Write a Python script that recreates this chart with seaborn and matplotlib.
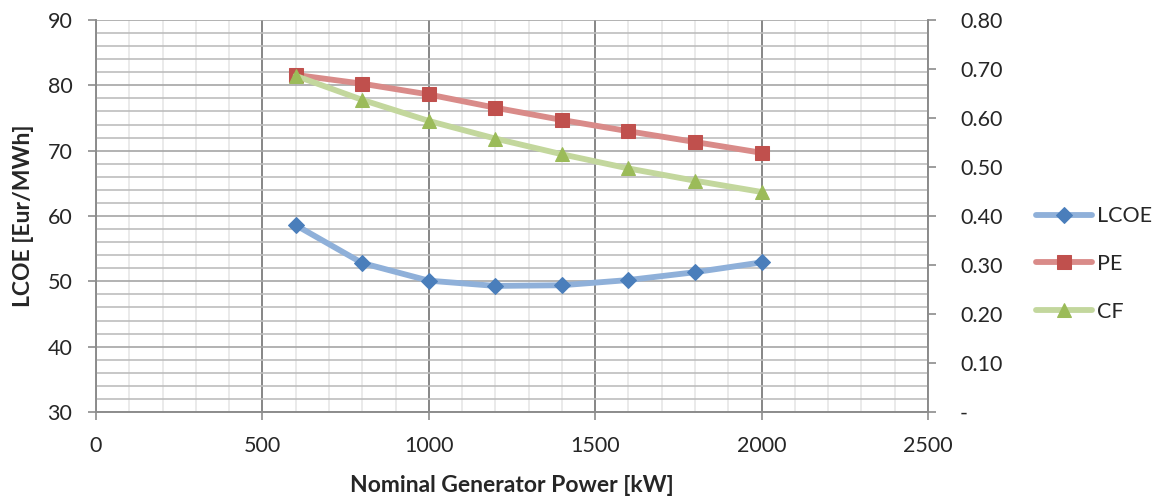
import matplotlib
matplotlib.use("Agg")
import matplotlib.pyplot as plt
import seaborn as sns
import numpy as np
from matplotlib.ticker import MultipleLocator, FuncFormatter

power_kw = [600, 800, 1000, 1200, 1400, 1600, 1800, 2000]
lcoe = [58.6, 52.8, 50.1, 49.3, 49.4, 50.2, 51.4, 52.9]
pe = [0.688, 0.670, 0.648, 0.621, 0.596, 0.573, 0.551, 0.529]
cf = [0.686, 0.637, 0.594, 0.558, 0.526, 0.497, 0.472, 0.449]

x_ticks = [0, 500, 1000, 1500, 2000, 2500]
left_ticks = [30, 40, 50, 60, 70, 80, 90]
right_ticks = [0.0, 0.1, 0.2, 0.3, 0.4, 0.5, 0.6, 0.7, 0.8]

sns.set_style("white")
plt.rcParams['font.family'] = ['Lato', 'DejaVu Sans']

fig = plt.figure(figsize=(11.61, 4.99), dpi=100)
ax = fig.add_axes([96/1161, 1-412/499, (928-96)/1161, (412-20)/499])
ax2 = ax.twinx()

spine_col = '#8c8c8c'
for a in (ax, ax2):
    for s in a.spines.values():
        s.set_color(spine_col)
        s.set_linewidth(1.2)
    a.spines['top'].set_visible(False)

ax.set_xlim(0, 2500)
ax.set_ylim(30, 90)
ax2.set_ylim(0, 0.8)
ax.set_xticks(x_ticks)
ax.set_yticks(left_ticks)
ax2.set_yticks(right_ticks)
ax.xaxis.set_minor_locator(MultipleLocator(100))
ax.yaxis.set_minor_locator(MultipleLocator(2))

ax.grid(which='minor', axis='x', color='#e6e6e6', lw=1.2, zorder=0)
ax.grid(which='minor', axis='y', color='#bdbdbd', lw=1.2, zorder=0)
ax.grid(which='major', axis='y', color='#a6a6a6', lw=1.2, zorder=0)
ax.grid(which='major', axis='x', color='#868686', lw=1.4, zorder=0)
ax.set_axisbelow(True)

fs = 15.5
lfs = 16.5
ax.tick_params(which='major', direction='out', length=6, width=1.2, color=spine_col,
               labelsize=fs, left=True, bottom=True)
ax.tick_params(axis='y', pad=11)
ax.tick_params(axis='x', pad=11)
ax.tick_params(which='minor', length=0)
ax2.tick_params(which='major', direction='out', length=6, width=1.2, color=spine_col,
                labelsize=fs, pad=17, right=True)
ax2.yaxis.set_major_formatter(FuncFormatter(lambda v, p: '-' if abs(v) < 1e-9 else f'{v:.2f}'))

lw = 4.2
sns.lineplot(x=power_kw, y=lcoe, ax=ax, color='#8fb0d9', lw=lw, marker='D', markersize=8,
             markerfacecolor='#4a7ebb', markeredgecolor='#4a7ebb', label='LCOE', zorder=3)
sns.lineplot(x=power_kw, y=pe, ax=ax2, color='#d98b89', lw=lw, marker='s', markersize=9.5,
             markerfacecolor='#c0504d', markeredgecolor='#c0504d', label='PE', zorder=3)
sns.lineplot(x=power_kw, y=cf, ax=ax2, color='#c3d79d', lw=lw, marker='^', markersize=10,
             markerfacecolor='#9bbb59', markeredgecolor='#9bbb59', label='CF', zorder=3)

h1, l1 = ax.get_legend_handles_labels()
h2, l2 = ax2.get_legend_handles_labels()
for a in (ax, ax2):
    if a.get_legend():
        a.get_legend().remove()

ax.set_xlabel('Nominal Generator Power [kW]', fontsize=lfs, fontweight='bold')
ax.set_ylabel('LCOE [Eur/MWh]', fontsize=lfs, fontweight='bold')
ax2.set_ylabel('')
ax.xaxis.set_label_coords(0.5, -(485 - 412) / 392, transform=ax.transAxes)
ax.xaxis.label.set_va('center')
ax.yaxis.set_label_coords(-(96 - 23) / 832, 0.5, transform=ax.transAxes)
ax.yaxis.label.set_va('center')

fig.legend(h1 + h2, l1 + l2, loc='center left', bbox_to_anchor=(1036/1161, 1-264/499),
           frameon=False, fontsize=fs, handlelength=2.6, handletextpad=0.25,
           labelspacing=1.28, borderaxespad=0, borderpad=0)

fig.savefig('out.png', dpi=100)
